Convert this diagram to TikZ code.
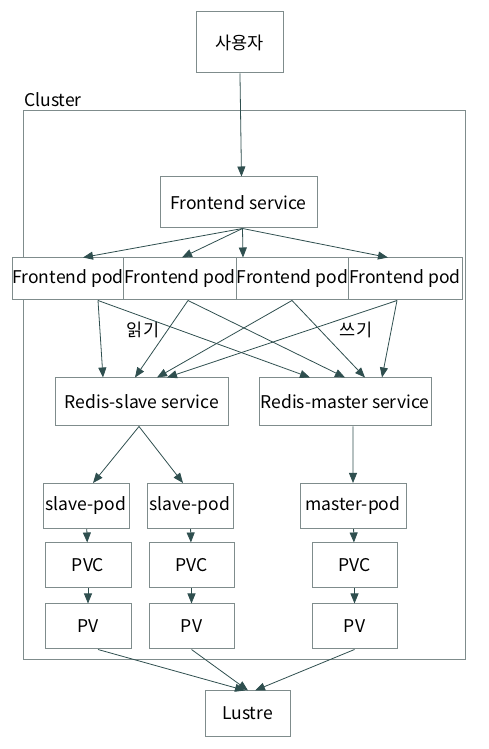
\documentclass[tikz,border=0pt]{standalone}
\usepackage{fontspec}
\setmainfont{Noto Sans CJK KR}
\usepackage{xcolor}
\definecolor{edge}{HTML}{2F4F4F}
\definecolor{frame}{HTML}{7F8C8C}
\usepackage{tikz}
\usetikzlibrary{arrows.meta}

\begin{document}
\begin{tikzpicture}[x=1bp,y=1bp,>={Triangle[length=10bp,width=8bp]},every node/.style={font=\fontsize{17.6}{20}\selectfont},
  box/.style={draw=frame,fill=white,rectangle,inner sep=0pt,line width=1bp},
  link/.style={->,edge,line width=0.8bp}]
\useasboundingbox (0,0) rectangle (489,749);
\draw[frame,line width=1bp] (23,638) rectangle (465,89);
\node[anchor=base west,inner sep=0pt] (cl) at (24,642) {Cluster};
\node[box,minimum width=87bp,minimum height=61bp] (user) at (239.5,706.5) {사용자};
\node[box,minimum width=157bp,minimum height=51bp] (fsvc) at (238.5,546.5) {Frontend service};
\node[box,minimum width=110bp,minimum height=42bp] (pod1) at (68,470) {Frontend pod};
\node[box,minimum width=114bp,minimum height=42bp] (pod2) at (180,470) {Frontend pod};
\node[box,minimum width=111bp,minimum height=42bp] (pod3) at (292.5,470) {Frontend pod};
\node[box,minimum width=114bp,minimum height=42bp] (pod4) at (405,470) {Frontend pod};
\node[box,minimum width=172bp,minimum height=48bp] (slavesvc) at (142,347) {Redis-slave service};
\node[box,minimum width=172bp,minimum height=48bp] (mastersvc) at (345,347) {Redis-master service};
\node[box,minimum width=86bp,minimum height=45bp] (spod1) at (86,243) {slave-pod};
\node[box,minimum width=86bp,minimum height=45bp] (spod2) at (190,243) {slave-pod};
\node[box,minimum width=106bp,minimum height=45bp] (mpod) at (353,243) {master-pod};
\node[box,minimum width=86bp,minimum height=45bp] (pvc1) at (88,183.5) {PVC};
\node[box,minimum width=85bp,minimum height=45bp] (pvc2) at (191.5,183.5) {PVC};
\node[box,minimum width=85bp,minimum height=45bp] (pvc3) at (354.5,183.5) {PVC};
\node[box,minimum width=86bp,minimum height=45bp] (pv1) at (88,122.5) {PV};
\node[box,minimum width=85bp,minimum height=45bp] (pv2) at (191.5,122.5) {PV};
\node[box,minimum width=85bp,minimum height=45bp] (pv3) at (354.5,122.5) {PV};
\node[box,minimum width=85bp,minimum height=45bp] (lustre) at (247.5,35.5) {Lustre};
\node (read) at (143,419) {읽기};
\node (write) at (356,419) {쓰기};
\draw[link] (user) -- ([xshift=3bp]fsvc.north);
\draw[link] ([xshift=4bp]fsvc.south) -- ([xshift=15bp]pod1.north);
\draw[link] ([xshift=4bp]fsvc.south) -- ([xshift=2bp]pod2.north);
\draw[link] ([xshift=4bp]fsvc.south) -- ([xshift=-49.5bp]pod3.north);
\draw[link] ([xshift=4bp]fsvc.south) -- ([xshift=-17bp]pod4.north);
\draw[link] ([xshift=30bp]pod1.south) -- ([xshift=-39bp]slavesvc.north);
\draw[link] ([xshift=30bp]pod1.south) -- ([xshift=-35bp]mastersvc.north);
\draw[link] ([xshift=8bp]pod2.south) -- ([xshift=-7bp]slavesvc.north);
\draw[link] ([xshift=8bp]pod2.south) -- ([xshift=0bp]mastersvc.north);
\draw[link] ([xshift=-0.5bp]pod3.south) -- ([xshift=15bp]slavesvc.north);
\draw[link] ([xshift=-0.5bp]pod3.south) -- ([xshift=20bp]mastersvc.north);
\draw[link] ([xshift=-8bp]pod4.south) -- ([xshift=25bp]slavesvc.north);
\draw[link] ([xshift=-8bp]pod4.south) -- ([xshift=37bp]mastersvc.north);
\draw[link] ([xshift=-3bp]slavesvc.south) -- ([xshift=7bp]spod1.north);
\draw[link] ([xshift=-3bp]slavesvc.south) -- ([xshift=-7bp]spod2.north);
\draw[link] ([xshift=8bp]mastersvc.south) -- (mpod);
\draw[link] (spod1) -- (pvc1);
\draw[link] (spod2) -- (pvc2);
\draw[link] (mpod) -- (pvc3);
\draw[link] (pvc1) -- (pv1);
\draw[link] (pvc2) -- (pv2);
\draw[link] (pvc3) -- (pv3);
\draw[link] ([xshift=10bp]pv1.south) -- ([xshift=-2.5bp]lustre.north);
\draw[link] (pv2.south) -- ([xshift=0.5bp]lustre.north);
\draw[link] (pv3.south) -- ([xshift=7.5bp]lustre.north);
\end{tikzpicture}
\end{document}
